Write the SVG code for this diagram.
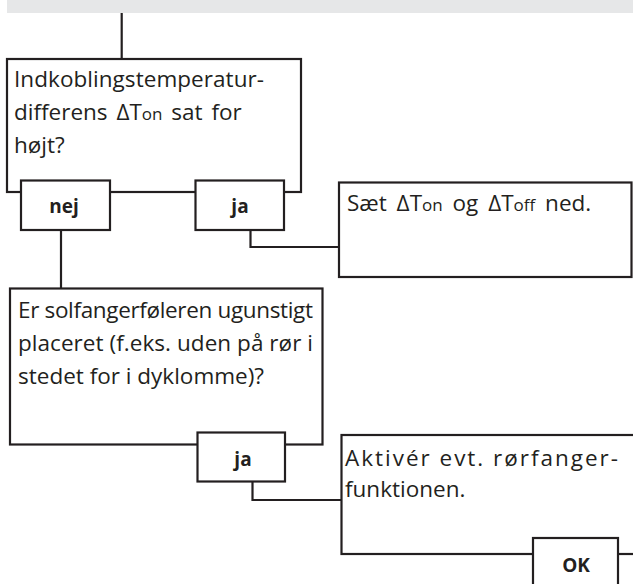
<svg xmlns="http://www.w3.org/2000/svg" width="633" height="584" viewBox="0 0 633 584">
<style>
.box{fill:#fff;stroke:#231f20;stroke-width:2.2}
.conn{fill:none;stroke:#231f20;stroke-width:2.2}
.t{font-family:"Open Sans","Liberation Sans",sans-serif;font-size:22.5px;fill:#231f20}
.s{font-size:17px}
.b{font-family:"Open Sans","Liberation Sans",sans-serif;font-size:19px;font-weight:bold;fill:#231f20;text-anchor:middle}
</style>
<rect x="7" y="0" width="626" height="13" fill="#e6e7e8"/>
<g id="connectors">
<path class="conn" d="M121.7 13V59"/>
<path class="conn" d="M61 230V288.5"/>
<path class="conn" d="M250.5 230V247H339"/>
<path class="conn" d="M252.5 481.5V500H341.5"/>
</g>
<g id="q1">
<rect class="box" x="7" y="59" width="294" height="133"/>
<text class="t" x="14" y="87" textLength="250">Indkoblingstemperatur-</text>
<text class="t" x="14" y="120" word-spacing="3">differens ΔT<tspan class="s">on</tspan> sat for</text>
<text class="t" x="14" y="153">højt?</text>
</g>
<g id="q1-nej">
<rect class="box" x="21" y="180.5" width="89" height="49.5"/>
<text class="b" x="64" y="213">nej</text>
</g>
<g id="q1-ja">
<rect class="box" x="195.5" y="180.5" width="88.5" height="49.5"/>
<text class="b" x="240" y="213">ja</text>
</g>
<g id="a1">
<rect class="box" x="339" y="182.5" width="292.5" height="94.5"/>
<text class="t" x="347" y="211" word-spacing="4">Sæt ΔT<tspan class="s">on</tspan> og ΔT<tspan class="s">off</tspan> ned.</text>
</g>
<g id="q2">
<rect class="box" x="10" y="288.5" width="312.5" height="156"/>
<text class="t" x="18" y="318" textLength="295">Er solfangerføleren ugunstigt</text>
<text class="t" x="18" y="351" textLength="295">placeret (f.eks. uden på rør i</text>
<text class="t" x="18" y="384">stedet for i dyklomme)?</text>
</g>
<g id="q2-ja">
<rect class="box" x="197.5" y="432.5" width="87.5" height="49"/>
<text class="b" x="243" y="466">ja</text>
</g>
<g id="a2">
<rect class="box" x="341.5" y="435" width="300" height="119"/>
<text class="t" x="345" y="466" textLength="273">Aktivér evt. rørfanger-</text>
<text class="t" x="345" y="497">funktionen.</text>
</g>
<g id="ok">
<rect class="box" x="533" y="538" width="85" height="60"/>
<text class="b" x="576" y="572">OK</text>
</g>
</svg>
